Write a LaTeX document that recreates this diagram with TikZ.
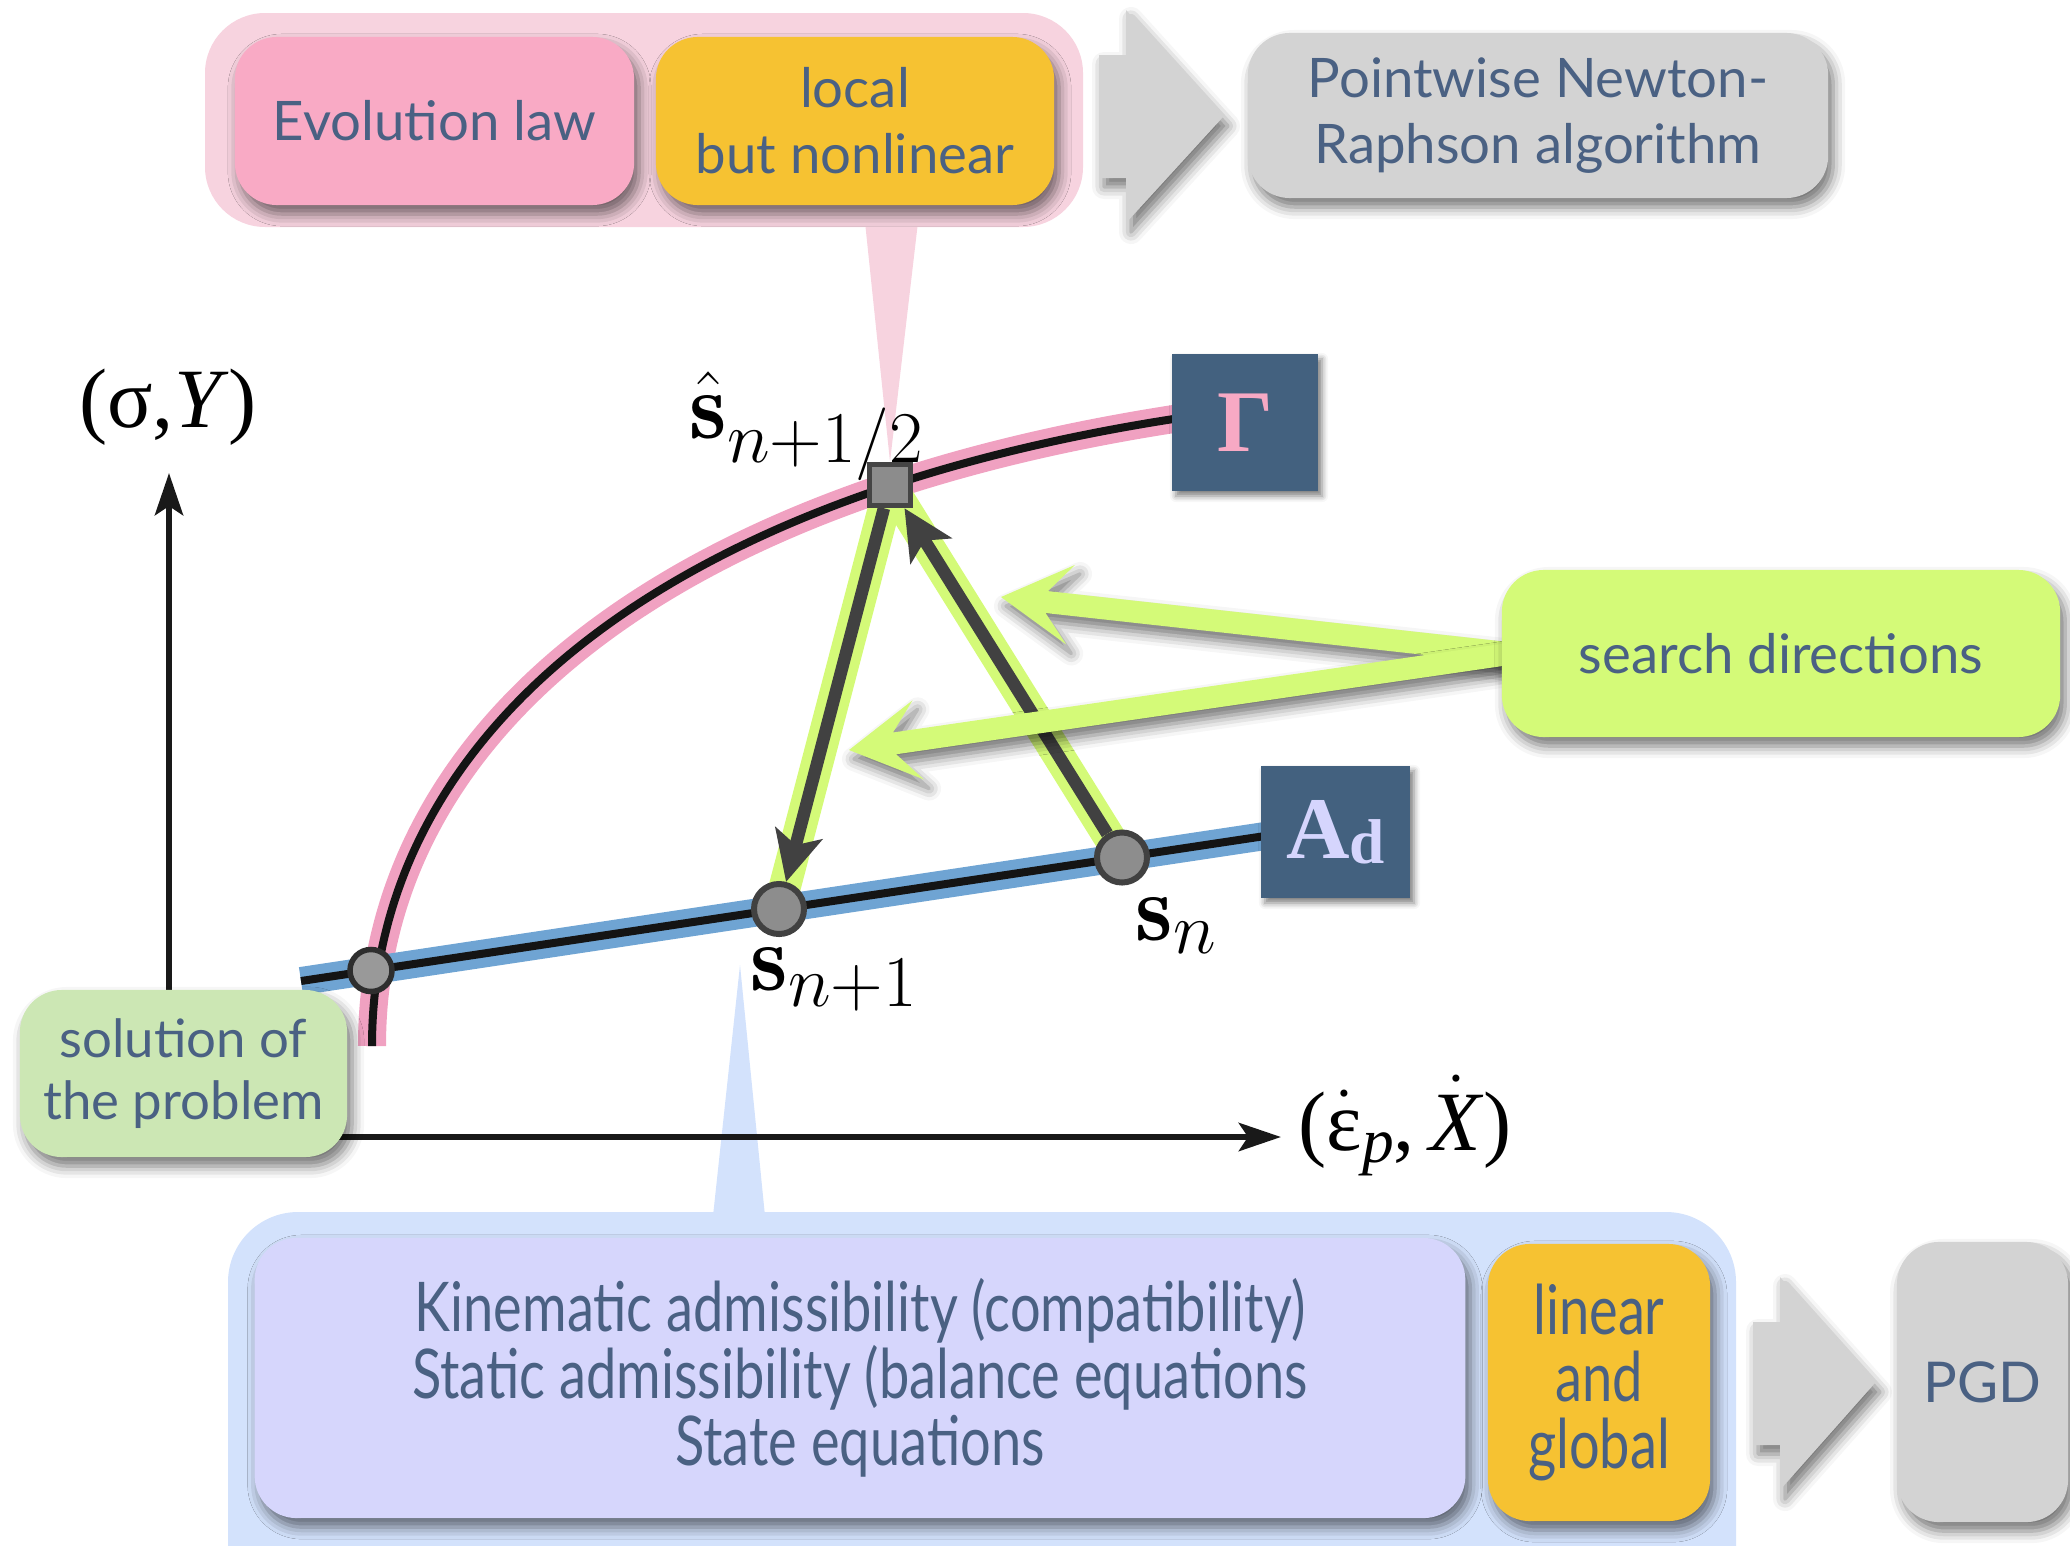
\documentclass[tikz,border=0pt]{standalone}
\usepackage{fontspec}
\usetikzlibrary{arrows.meta,calc,shadows.blur}
\newfontfamily\gs{Lato}
\newfontfamily\gsc[FakeStretch=0.79]{Lato}
\newfontfamily\serif{Liberation Serif}
\DeclareMathSizes{27}{27}{22}{17}
\definecolor{txt}{HTML}{4A6183}
\definecolor{pinkbg}{HTML}{F7D3DF}
\definecolor{pinkbox}{HTML}{F9AAC5}
\definecolor{yel}{HTML}{F6C232}
\definecolor{graybox}{HTML}{D3D3D3}
\definecolor{bluebg}{HTML}{D3E2FC}
\definecolor{lav}{HTML}{D6D6FC}
\definecolor{solg}{HTML}{CCE7B4}
\definecolor{limeg}{HTML}{D4FA78}
\definecolor{navy}{HTML}{43617F}
\definecolor{gampink}{HTML}{F7A9C4}
\definecolor{adlav}{HTML}{D5D5FD}
\definecolor{curvepink}{HTML}{F0A1C1}
\definecolor{lineblue}{HTML}{6FA4D3}
\definecolor{darkl}{HTML}{414141}
\definecolor{ptfill}{HTML}{8D8D8D}
\tikzset{
  shad/.style={blur shadow={shadow xshift=0.05cm, shadow yshift=-0.09cm, shadow blur radius=0.12cm, shadow opacity=55}},
  smallshad/.style={blur shadow={shadow xshift=0.04cm, shadow yshift=-0.05cm, shadow blur radius=0.06cm, shadow opacity=50}},
  card/.style={rounded corners=0.42cm, inner sep=0pt, align=center, text=txt, font=\gs\fontsize{15.5}{18.8}\selectfont, shad},
  condensed/.style={font=\gsc\fontsize{19.5}{19}\selectfont},
  navybox/.style={fill=navy, inner sep=0pt, smallshad},
  ptshape/.style={circle, line width=0.06cm, minimum size=0.5cm, inner sep=0pt},
  pt/.style={ptshape, fill=ptfill, draw=darkl},
  solshape/.style={circle, line width=0.055cm, minimum size=0.42cm, inner sep=0pt},
  solpt/.style={solshape, fill=black!40, draw=black!82},
  sqshape/.style={rectangle, line width=0.055cm, minimum size=0.41cm, inner sep=0pt},
  sqpt/.style={sqshape, fill=black!45, draw=black!73},
  axis/.style={draw=black!90, line width=0.065cm, -{Stealth[length=0.42cm, width=0.28cm, inset=0.09cm]}},
  halo/.style={draw=limeg, line width=0.32cm},
  darr/.style={draw=darkl, line width=0.125cm, -{Stealth[length=0.5cm, width=0.48cm, inset=0.12cm]}},
  blockarrow/.style={fill=graybox, shad},
  lbl/.style={inner sep=0pt, font=\fontsize{27}{30}\selectfont}
}
\newcommand\srcharrow[2]{%
  \path ($(#2)!0.46cm!(#1)$) coordinate (tmpN) ($(#2)!0.7cm!(#1)$) coordinate (tmpH);
  \fill[limeg, shad] ($(#1)!0.11cm!90:(#2)$) -- ($(tmpN)!0.11cm!-90:(#1)$) -- ($(tmpH)!0.4cm!-90:(#1)$)
     -- (#2) -- ($(tmpH)!0.4cm!90:(#1)$) -- ($(tmpN)!0.11cm!90:(#1)$) -- ($(#1)!0.11cm!-90:(#2)$) -- cycle;}
\begin{document}
\begin{tikzpicture}[x=0.01cm,y=-0.01cm]
\useasboundingbox (0,0) rectangle (2070,1545);

% invisible anchors of the points (for the connectors)
\node[ptshape] (sn1) at (779,909) {};
\node[ptshape] (sn) at (1122,857.5) {};
\node[solshape] (sp) at (371,970.5) {};
\node[sqshape] (sh) at (890,485) {};

% containers with their callout tails
\fill[pinkbg, rounded corners=0.6cm] (205,13) rectangle (1083,227);
\fill[pinkbg] (865,222) -- (918,222) -- (sh.north) -- cycle;
\fill[bluebg, rounded corners=0.7cm] (228,1212) rectangle (1736,1640);
\coordinate (btip) at (740,965);
\fill[bluebg] (713,1216) -- (765,1216) -- (btip) -- cycle;

% axes
\coordinate (O) at (169,1137);
\coordinate (ytip) at (169,473);
\coordinate (xtip) at (1281,1137);
\draw[axis] (O) -- (ytip);
\draw[axis] (O) -- (xtip);

% Gamma curve and Ad line
\coordinate (c0) at (372,1046);
\coordinate (c3) at (1180,418);
\draw[curvepink, line width=0.28cm] (c0) .. controls (372,746) and (642,500) .. (c3);
\draw[black!92, line width=0.08cm] (c0) .. controls (372,746) and (642,500) .. (c3);
\coordinate (a0) at (301,981);
\coordinate (a1) at (1265,836);
\draw[lineblue, line width=0.28cm] (a0) -- (a1);
\draw[black!92, line width=0.08cm] (a0) -- (a1);

% triangle of directions
\draw[halo] (sh.center) -- (sn1.center);
\draw[halo] (sn.center) -- (sh.center);
\draw[darr] (sh) -- (sn1);
\draw[darr] (sn) -- (sh);

% visible points
\node[pt] (sn1v) at (sn1) {};
\node[pt] (snv) at (sn) {};
\node[solpt] (spv) at (sp) {};
\node[sqpt] (shv) at (sh) {};

% search direction arrows
\coordinate (t1) at (1001,597);
\coordinate (t2) at (849,750);
\coordinate (src) at (1512,653.5);
\srcharrow{src}{t1}
\srcharrow{src}{t2}

% boxes
\node[card, fill=pinkbox, minimum width=3.99cm, minimum height=1.68cm] (evo) at (434.5,121) {Evolution law};
\node[card, fill=yel, minimum width=3.98cm, minimum height=1.68cm] (loc) at (855,121) {local\\but nonlinear};
\node[card, fill=graybox, minimum width=5.8cm, minimum height=1.65cm] (nr) at (1538,115.5) {Pointwise Newton-\\Raphson algorithm};
\node[card, fill=limeg, minimum width=5.58cm, minimum height=1.67cm] (sd) at (1781,653.5) {search directions};
\node[card, fill=solg, minimum width=3.27cm, minimum height=1.67cm, font=\gs\fontsize{15}{17.6}\selectfont] (sol) at (183.5,1073.5) {solution of\\the problem};
\node[card, fill=lav, minimum width=12.1cm, minimum height=2.8cm, condensed] (kin) at (860,1378) {Kinematic admissibility (compatibility)\\Static admissibility (balance equations\\State equations};
\node[card, fill=yel, minimum width=2.22cm, minimum height=2.77cm, condensed] (lin) at (1599,1382.5) {linear\\and\\global};
\node[card, fill=graybox, minimum width=1.71cm, minimum height=2.8cm, font=\gs\fontsize{16}{18}\selectfont] (pgd) at (1982.5,1382) {PGD};

\node[navybox, minimum width=1.46cm, minimum height=1.37cm, text=gampink, font=\serif\bfseries\fontsize{25}{25}\selectfont] (gam) at (1245,422.5) {Γ};
\node[navybox, minimum width=1.49cm, minimum height=1.32cm, text=adlav, font=\serif\bfseries\fontsize{25}{25}\selectfont] (ad) at (1335.5,832) {A\raisebox{-0.05cm}{\fontsize{18}{18}\selectfont d}};

% labels
\node[lbl, anchor=base west] (lsh) at (689,438) {$\hat{\mathbf{s}}_{n+1/2}$};
\node[lbl, anchor=base west] (lsn1) at (750,990) {$\mathbf{s}_{n+1}$};
\node[lbl, anchor=base west] (lsn) at (1135,940) {$\mathbf{s}_{n}$};
\node[inner sep=0pt, font=\serif\fontsize{24}{28}\selectfont] (ly) at (168,407) {(σ,\textit{Y})};
\node[inner sep=0pt, anchor=base west, font=\serif\fontsize{24}{28}\selectfont] (lx) at (1298,1150) {(\(\dot{\hbox{ε}}\)\raisebox{-0.12cm}{\fontsize{18}{18}\selectfont\textit{p}},\,\(\dot{\hbox{\textit{X}}}\))};

% block arrows
\fill[blockarrow] (1099,55) -- (1126,55) -- (1126,10) -- (1223,117) -- (1126,223) -- (1126,178) -- (1099,178) -- cycle;
\fill[blockarrow] (1753,1322) -- (1780,1322) -- (1780,1277) -- (1875,1383) -- (1780,1490) -- (1780,1445) -- (1753,1445) -- cycle;
\end{tikzpicture}
\end{document}
